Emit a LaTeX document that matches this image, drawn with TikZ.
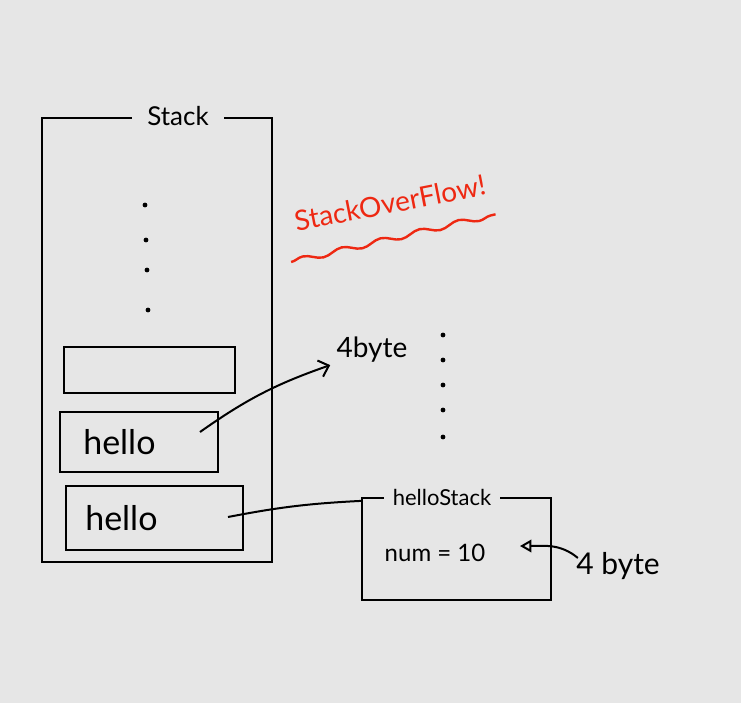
\documentclass[tikz,border=0pt]{standalone}
\usepackage{fontspec}
\setmainfont{Lato}
\usetikzlibrary{arrows.meta,positioning,calc,decorations.pathmorphing}
\definecolor{boardgray}{RGB}{230,230,230}
\definecolor{markerred}{RGB}{238,40,18}
\tikzset{
  memory frame/.style={rectangle, draw=black, line width=1.1pt, inner sep=0pt},
  frame title/.style={fill=boardgray, inner sep=2pt, font=\fontsize{12}{14}\selectfont},
  stack slot/.style={rectangle, draw=black, line width=1.1pt, inner sep=0pt},
  slot text/.style={inner sep=0pt, font=\fontsize{17}{20}\selectfont},
  size note/.style={inner sep=1pt, font=\fontsize{14}{16}\selectfont},
  sketch arrow/.style={-{Straight Barb[length=1.6mm,width=3mm]}, line width=1pt},
  field arrow/.style={-{Triangle[open,length=2mm,width=2.2mm]}, line width=1pt},
  ellipsis dot/.style={circle, fill=black, inner sep=0pt, minimum size=2.4pt}
}
\begin{document}
\begin{tikzpicture}[x=0.5pt, y=-0.5pt]
  \fill[boardgray] (0,0) rectangle (741,703);
  \node[memory frame, minimum width=115pt, minimum height=222pt] (stack) at (157,340) {};
  \node[frame title, minimum width=46pt, font=\fontsize{13}{15}\selectfont] (stack title) at (178,116) {Stack};
  \foreach \y [count=\i] in {205,240,270,310}
    \node[ellipsis dot] (stack dot \i) at (144+\i,\y) {};
  \node[stack slot, minimum width=85.5pt, minimum height=23pt] (empty slot) at (149.5,370) {};
  \node[stack slot, minimum width=79pt, minimum height=30pt] (hello top) at (139,442) {};
  \node[slot text, right=12pt of hello top.west] (hello top text) {hello};
  \node[stack slot, minimum width=88.5pt, minimum height=32pt] (hello bottom) at (154.5,518) {};
  \node[slot text, right=10pt of hello bottom.west] (hello bottom text) {hello};
  \coordinate (hello top ref) at (200,432);
  \coordinate (hello bottom ref) at (228,517);
  \node[size note] (slot size) at (372,350) {4byte};
  \foreach \y [count=\i] in {335,360,385,410,437}
    \node[ellipsis dot] (heap dot \i) at (443,\y) {};
  \node[memory frame, minimum width=94.5pt, minimum height=51pt] (hello stack) at (456.5,549) {};
  \node[frame title, minimum width=58pt, font=\fontsize{11}{13}\selectfont] (hello stack title) at (442,497) {helloStack};
  \node[inner sep=0pt, font=\fontsize{12}{14}\selectfont] (num field) at (435,553) {num = 10};
  \coordinate (num ref) at (520,546);
  \node[size note, font=\fontsize{15}{17}\selectfont] (field size) at (618,566) {4 byte};
  \node[text=markerred, rotate=11, font=\fontsize{14}{16}\selectfont] (overflow) at (390,203) {StackOverFlow!};
  \draw[markerred, line width=1.2pt, decorate, decoration={snake, amplitude=1.4pt, segment length=20pt}]
    ($(overflow.south west)+(0,22)$) -- ($(overflow.south east)+(0,14)$);
  \draw[sketch arrow] (hello top ref) to[bend left=8] ($(slot size.south west)+(-4,0)$);
  \draw[line width=1pt] (hello bottom ref) to[bend left=4] ($(hello stack.north west)+(0,4)$);
  \draw[field arrow] ($(field size.north west)+(4,8)$) to[out=140, in=0] (num ref);
\end{tikzpicture}
\end{document}
